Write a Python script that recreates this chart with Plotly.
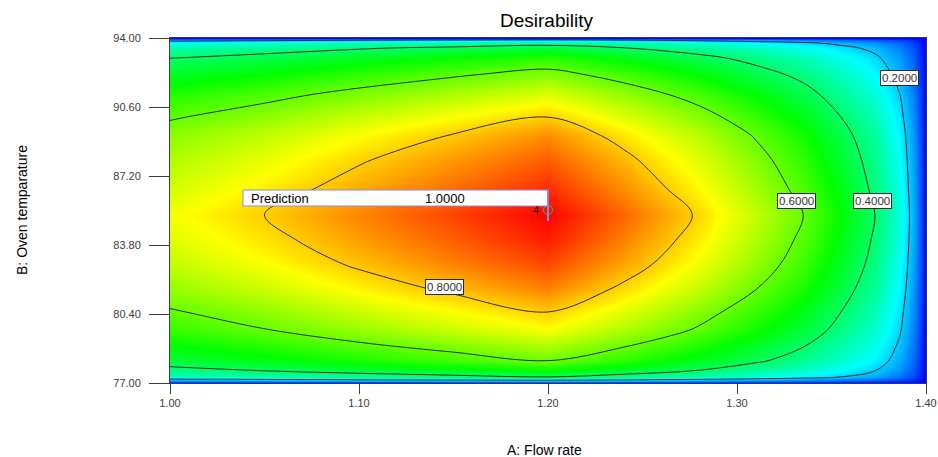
import plotly.graph_objects as go

# ---- data ----
flow_rate = [1.00, 1.05, 1.10, 1.15, 1.20, 1.24, 1.28, 1.31, 1.335, 1.355, 1.373, 1.386, 1.394, 1.40]
oven_temp = [77.0, 77.12, 77.3, 77.6, 78.1, 78.8, 79.6, 80.5, 81.6, 82.8, 84.0, 85.3,
             86.6, 88.0, 89.2, 90.1, 91.2, 92.2, 93.0, 93.5, 93.75, 93.9, 94.0]
# desirability grid: rows follow oven_temp, columns follow flow_rate
desirability = [
    [0.000, 0.000, 0.000, 0.000, 0.000, 0.000, 0.000, 0.000, 0.000, 0.000, 0.000, 0.000, 0.000, 0.0],
    [0.133, 0.144, 0.157, 0.168, 0.180, 0.162, 0.142, 0.124, 0.108, 0.090, 0.072, 0.050, 0.029, 0.0],
    [0.296, 0.320, 0.348, 0.374, 0.400, 0.360, 0.316, 0.276, 0.240, 0.200, 0.160, 0.112, 0.064, 0.0],
    [0.370, 0.400, 0.435, 0.468, 0.500, 0.450, 0.395, 0.345, 0.300, 0.250, 0.200, 0.140, 0.080, 0.0],
    [0.444, 0.480, 0.522, 0.561, 0.600, 0.540, 0.474, 0.414, 0.360, 0.300, 0.240, 0.168, 0.096, 0.0],
    [0.496, 0.536, 0.583, 0.626, 0.670, 0.603, 0.529, 0.462, 0.402, 0.335, 0.268, 0.188, 0.107, 0.0],
    [0.551, 0.596, 0.648, 0.697, 0.745, 0.671, 0.589, 0.514, 0.447, 0.373, 0.298, 0.209, 0.119, 0.0],
    [0.592, 0.640, 0.696, 0.748, 0.800, 0.720, 0.632, 0.552, 0.480, 0.400, 0.320, 0.224, 0.128, 0.0],
    [0.644, 0.696, 0.757, 0.813, 0.870, 0.783, 0.687, 0.600, 0.522, 0.435, 0.348, 0.244, 0.139, 0.0],
    [0.688, 0.744, 0.809, 0.870, 0.930, 0.837, 0.735, 0.642, 0.558, 0.465, 0.372, 0.260, 0.149, 0.0],
    [0.718, 0.776, 0.844, 0.907, 0.970, 0.873, 0.766, 0.669, 0.582, 0.485, 0.388, 0.272, 0.155, 0.0],
    [0.740, 0.800, 0.870, 0.935, 1.000, 0.900, 0.790, 0.690, 0.600, 0.500, 0.400, 0.280, 0.160, 0.0],
    [0.707, 0.764, 0.831, 0.893, 0.955, 0.860, 0.754, 0.659, 0.573, 0.478, 0.382, 0.267, 0.153, 0.0],
    [0.673, 0.728, 0.792, 0.851, 0.910, 0.819, 0.719, 0.628, 0.546, 0.455, 0.364, 0.255, 0.146, 0.0],
    [0.636, 0.688, 0.748, 0.804, 0.860, 0.774, 0.679, 0.593, 0.516, 0.430, 0.344, 0.241, 0.138, 0.0],
    [0.592, 0.640, 0.696, 0.748, 0.800, 0.720, 0.632, 0.552, 0.480, 0.400, 0.320, 0.224, 0.128, 0.0],
    [0.533, 0.576, 0.626, 0.673, 0.720, 0.648, 0.569, 0.497, 0.432, 0.360, 0.288, 0.202, 0.115, 0.0],
    [0.466, 0.504, 0.548, 0.589, 0.630, 0.567, 0.498, 0.435, 0.378, 0.315, 0.252, 0.176, 0.101, 0.0],
    [0.400, 0.432, 0.470, 0.505, 0.540, 0.486, 0.427, 0.373, 0.324, 0.270, 0.216, 0.151, 0.086, 0.0],
    [0.333, 0.360, 0.392, 0.421, 0.450, 0.405, 0.356, 0.311, 0.270, 0.225, 0.180, 0.126, 0.072, 0.0],
    [0.266, 0.288, 0.313, 0.337, 0.360, 0.324, 0.284, 0.248, 0.216, 0.180, 0.144, 0.101, 0.058, 0.0],
    [0.163, 0.176, 0.191, 0.206, 0.220, 0.198, 0.174, 0.152, 0.132, 0.110, 0.088, 0.062, 0.035, 0.0],
    [0.000, 0.000, 0.000, 0.000, 0.000, 0.000, 0.000, 0.000, 0.000, 0.000, 0.000, 0.000, 0.000, 0.0],
]
contour_levels = [0.2, 0.4, 0.6, 0.8]
level_labels = ["0.2000", "0.4000", "0.6000", "0.8000"]
label_x = [1.386, 1.3715, 1.3317, 1.145]
label_y = [92.03, 85.97, 85.97, 81.73]

x_ticks = [1.00, 1.10, 1.20, 1.30, 1.40]
x_ticktext = ["1.00", "1.10", "1.20", "1.30", "1.40"]
y_ticks = [77.00, 80.40, 83.80, 87.20, 90.60, 94.00]
y_ticktext = ["77.00", "80.40", "83.80", "87.20", "90.60", "94.00"]

pred_x, pred_y, pred_value = 1.20, 84.98, "1.0000"
center_x, center_y, center_reps = [1.20], [85.52], "4"

colorscale = [[0.0, "rgb(0,0,255)"], [0.25, "rgb(0,255,255)"], [0.5, "rgb(0,255,0)"],
              [0.75, "rgb(255,255,0)"], [1.0, "rgb(255,0,0)"]]

FONT = "Liberation Sans, Arial, sans-serif"

fig = go.Figure()
fig.add_trace(go.Heatmap(x=flow_rate, y=oven_temp, z=desirability, zsmooth="best",
                         colorscale=colorscale, zmin=0, zmax=1, showscale=False,
                         hoverinfo="skip"))
fig.add_trace(go.Contour(x=flow_rate, y=oven_temp, z=desirability,
                         contours=dict(coloring="none", start=contour_levels[0],
                                       end=contour_levels[-1], size=0.2),
                         line=dict(color="rgb(45,45,45)", width=1),
                         showscale=False, hoverinfo="skip"))
fig.add_trace(go.Scatter(x=center_x, y=center_y, mode="markers",
                         marker=dict(symbol="circle-open", size=9,
                                     line=dict(color="rgb(120,20,20)", width=1)),
                         hoverinfo="skip", showlegend=False))
fig.add_annotation(x=center_x[0], y=center_y[0], text=center_reps, showarrow=False,
                   xanchor="right", yanchor="middle", xshift=-7,
                   font=dict(family=FONT, size=11, color="rgb(40,20,20)"))

# contour level labels
for t, lx, ly in zip(level_labels, label_x, label_y):
    fig.add_annotation(x=lx, y=ly, text=t, showarrow=False, bgcolor="white",
                       bordercolor="rgb(40,40,40)", borderwidth=1, borderpad=1,
                       xanchor="center", yanchor="middle",
                       font=dict(family=FONT, size=11.5, color="rgb(50,50,50)"))

# prediction flag
box_left = 1.0386
box_bottom, box_top = 85.72, 86.51
fig.add_shape(type="rect", x0=box_left, x1=pred_x, y0=box_bottom, y1=box_top,
              fillcolor="white", line=dict(color="rgb(150,130,220)", width=1))
fig.add_shape(type="line", x0=pred_x, x1=pred_x, y0=box_top, y1=pred_y,
              line=dict(color="rgb(150,130,220)", width=2))
fig.add_annotation(x=box_left + 0.003, y=(box_bottom + box_top) / 2, text="Prediction",
                   showarrow=False, xanchor="left", yanchor="middle",
                   font=dict(family=FONT, size=13, color="black"))
fig.add_annotation(x=1.1455, y=(box_bottom + box_top) / 2, text=pred_value,
                   showarrow=False, xanchor="center", yanchor="middle",
                   font=dict(family=FONT, size=13, color="black"))

# titles
fig.add_annotation(x=0.4985, y=1.052, xref="paper", yref="paper", text="Desirability",
                   showarrow=False, xanchor="center", yanchor="middle",
                   font=dict(family=FONT, size=19, color="black"))
fig.add_annotation(x=0.496, y=-0.194, xref="paper", yref="paper", text="A: Flow rate",
                   showarrow=False, xanchor="center", yanchor="middle",
                   font=dict(family=FONT, size=14, color="black"))
fig.add_annotation(x=-0.196, y=0.501, xref="paper", yref="paper",
                   text="B: Oven temparature", textangle=-90,
                   showarrow=False, xanchor="center", yanchor="middle",
                   font=dict(family=FONT, size=14, color="black"))

fig.update_xaxes(range=[1.0, 1.4], tickvals=x_ticks, ticktext=x_ticktext,
                 ticks="outside", ticklen=10, tickcolor="rgb(60,60,60)",
                 showline=True, linecolor="rgb(40,50,140)", linewidth=1, mirror=True,
                 showgrid=False, zeroline=False, automargin=False,
                 tickfont=dict(family=FONT, size=11, color="rgb(60,60,60)"))
fig.update_yaxes(range=[77.0, 94.0], tickvals=y_ticks, ticktext=y_ticktext,
                 ticks="outside", ticklen=20, tickcolor="rgb(60,60,60)",
                 ticklabelstandoff=6, automargin=False,
                 showline=True, linecolor="rgb(60,60,60)", linewidth=1, mirror=True,
                 showgrid=False, zeroline=False,
                 tickfont=dict(family=FONT, size=11, color="rgb(60,60,60)"))

fig.update_layout(width=938, height=457, margin=dict(l=170, r=12, t=38, b=74),
                  paper_bgcolor="white", plot_bgcolor="white", showlegend=False)

fig.write_html("out.html")
